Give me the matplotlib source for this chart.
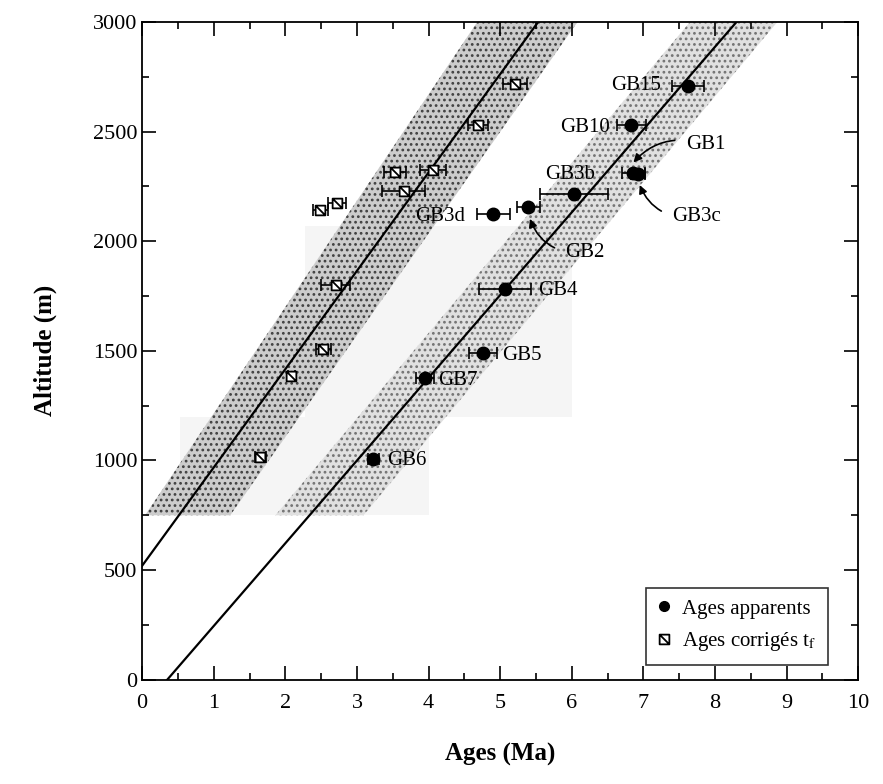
import numpy as np
import matplotlib
matplotlib.use("Agg")
import matplotlib.pyplot as plt
from matplotlib.path import Path
from matplotlib.ticker import MultipleLocator

plt.rcParams['font.family'] = ['Liberation Serif', 'DejaVu Serif']
plt.rcParams['mathtext.fontset'] = 'stix'
plt.rcParams['hatch.linewidth'] = 1.2

# apparent ages (filled dots)
app_names = ['GB15', 'GB10', 'GB1', 'GB3c', 'GB3b', 'GB2', 'GB3d', 'GB4', 'GB5', 'GB7', 'GB6']
app_age = [7.62, 6.83, 6.86, 6.92, 6.03, 5.39, 4.90, 5.07, 4.76, 3.95, 3.23]
app_alt = [2710, 2528, 2310, 2305, 2216, 2156, 2124, 1784, 1491, 1376, 1005]
app_err = [0.22, 0.20, 0.16, 0.10, 0.47, 0.16, 0.23, 0.36, 0.19, 0.12, 0.08]

# corrected ages t_f (open squares)
cor_age = [5.21, 4.69, 4.06, 3.53, 3.65, 2.72, 2.49, 2.70, 2.53, 2.08, 1.65]
cor_alt = [2716, 2532, 2325, 2317, 2229, 2174, 2142, 1802, 1509, 1385, 1014]
cor_err = [0.17, 0.14, 0.18, 0.15, 0.30, 0.12, 0.11, 0.20, 0.10, 0.05, 0.08]

# regression lines (age, altitude end points)
line_cor_x = [0.0, 5.53]
line_cor_y = [520, 3000]
line_app_x = [0.35, 8.30]
line_app_y = [0, 3000]

# uncertainty envelopes: [left edge, right edge] at bottom and top altitude
band_alt = [750, 3000]
band_cor_left = [0.04, 4.68]
band_cor_right = [1.23, 6.08]
band_app_left = [1.86, 7.65]
band_app_right = [3.09, 8.87]

fig = plt.figure(figsize=(8.83, 7.84), dpi=100)
ax = fig.add_axes([0.161, 0.133, 0.811, 0.839])

# faint scan background patches
ax.fill([2.28, 6.0, 6.0, 2.28], [1197, 1197, 2069, 2069], color='0.96', lw=0, zorder=0)
ax.fill([0.53, 4.0, 4.0, 0.53], [750, 750, 1197, 1197], color='0.96', lw=0, zorder=0)

ax.fill(band_cor_left + band_cor_right[::-1], band_alt + band_alt[::-1],
        facecolor='0.8', edgecolor='0.25', hatch='...', lw=0, zorder=1)
ax.fill(band_app_left + band_app_right[::-1], band_alt + band_alt[::-1],
        facecolor='0.88', edgecolor='0.45', hatch='...', lw=0, zorder=1)

ax.plot(line_cor_x, line_cor_y, color='black', lw=1.6, zorder=2)
ax.plot(line_app_x, line_app_y, color='black', lw=1.6, zorder=2)

# square with diagonal marker
sq = Path([(-1, -1), (1, -1), (1, 1), (-1, 1), (-1, -1), (-1, 1), (1, -1)],
          [Path.MOVETO, Path.LINETO, Path.LINETO, Path.LINETO, Path.CLOSEPOLY,
           Path.MOVETO, Path.LINETO])

ax.errorbar(cor_age, cor_alt, xerr=cor_err, fmt='none', ecolor='black',
            elinewidth=1.2, capsize=4, capthick=1.2, zorder=3)
ax.plot(cor_age, cor_alt, ls='none', marker=sq, ms=7, mfc='white', mec='black',
        mew=1.3, zorder=4, label=r'Ages corrigés t$_\mathrm{f}$')

ax.errorbar(app_age, app_alt, xerr=app_err, fmt='none', ecolor='black',
            elinewidth=1.2, capsize=4, capthick=1.2, zorder=3)
ax.plot(app_age, app_alt, ls='none', marker='o', ms=9, mfc='black', mec='black',
        zorder=4, label='Ages apparents')

# sample labels (pixel offsets from the point)
label_off = {
    'GB15': (-27, 0, 'right'), 'GB10': (-21, -2, 'right'), 'GB3b': (-4, 19, 'center'),
    'GB3d': (-28, -2, 'right'), 'GB4': (33, -2, 'left'), 'GB5': (19, -3, 'left'),
    'GB7': (13, -2, 'left'), 'GB6': (14, -1, 'left'),
}
for n, x, y in zip(app_names, app_age, app_alt):
    if n in label_off:
        dx, dy, ha = label_off[n]
        ax.annotate(n, (x, y), xytext=(dx, dy), textcoords='offset pixels',
                    ha=ha, va='center', fontsize=15)

arrow = dict(arrowstyle='-|>', color='black', lw=1.2, mutation_scale=12)
i = app_names.index('GB1')
ax.annotate('GB1', (app_age[i] - 0.05, app_alt[i] + 30), xytext=(56, 22),
            textcoords='offset pixels', ha='left', va='center', fontsize=15,
            arrowprops=dict(arrow, connectionstyle='arc3,rad=0.35', shrinkA=6, shrinkB=4))
i = app_names.index('GB3c')
ax.annotate('GB3c', (app_age[i], app_alt[i] - 25), xytext=(34, -37),
            textcoords='offset pixels', ha='left', va='center', fontsize=15,
            arrowprops=dict(arrow, connectionstyle='arc3,rad=-0.4', shrinkA=6, shrinkB=4))
i = app_names.index('GB2')
ax.annotate('GB2', (app_age[i], app_alt[i] - 30), xytext=(37, -39),
            textcoords='offset pixels', ha='left', va='center', fontsize=15,
            arrowprops=dict(arrow, connectionstyle='arc3,rad=-0.4', shrinkA=6, shrinkB=4))

ax.set_xlim(0, 10)
ax.set_ylim(0, 3000)
ax.xaxis.set_major_locator(MultipleLocator(1))
ax.xaxis.set_minor_locator(MultipleLocator(0.5))
ax.yaxis.set_major_locator(MultipleLocator(500))
ax.yaxis.set_minor_locator(MultipleLocator(250))
ax.tick_params(which='both', direction='in', top=True, right=True, labelsize=16, width=1.2)
ax.tick_params(which='major', length=10)
ax.tick_params(which='minor', length=5)
ax.tick_params(axis='x', pad=10)
for s in ax.spines.values():
    s.set_linewidth(1.3)

ax.set_xlabel('Ages (Ma)', fontsize=18, fontweight='bold', labelpad=22)
ax.set_ylabel('Altitude (m)', fontsize=18, fontweight='bold', labelpad=26)

h, l = ax.get_legend_handles_labels()
leg = ax.legend(h[::-1], l[::-1], loc='lower right', bbox_to_anchor=(0.972, 0.007),
                fontsize=15, frameon=True, fancybox=False, edgecolor='black',
                handlelength=0.7, handletextpad=0.5, borderpad=0.55, labelspacing=0.55)
leg.get_frame().set_linewidth(1.2)
for lh in leg.legend_handles:
    lh.set_markersize(7)

fig.savefig('out.png', dpi=100)
